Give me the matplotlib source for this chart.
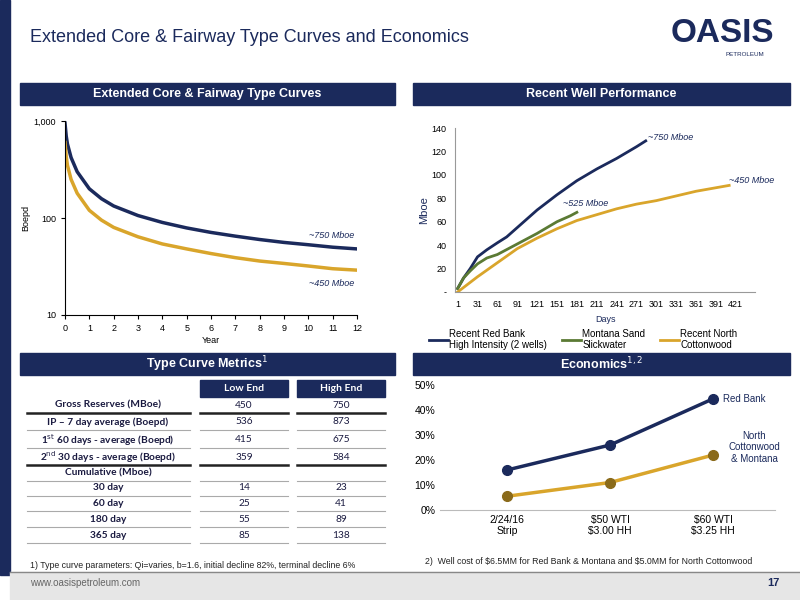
import matplotlib
matplotlib.use("Agg")
import matplotlib.pyplot as plt
from matplotlib.patches import Rectangle
from matplotlib.ticker import FuncFormatter, FixedLocator, NullLocator

NAVY = "#1b2a5c"; GOLD = "#d9a52b"; GREEN = "#5b7a34"; TXT = "#1b2a5c"
plt.rcParams['font.family'] = ['Liberation Sans', 'DejaVu Sans']

# ---- data ----
tc_years = [0, 0.05, 0.1, 0.25, 0.5, 1, 1.5, 2, 3, 4, 5, 6, 7, 8, 9, 10, 11, 12]
tc_high = [950, 700, 580, 420, 300, 200, 158, 133, 106, 90, 79, 71, 65, 60, 56, 53, 50, 48]
tc_low = [600, 430, 350, 250, 180, 120, 95, 80, 64, 54, 48, 43, 39, 36, 34, 32, 30, 29]

rb_days = [1, 10, 20, 31, 45, 61, 75, 91, 121, 151, 181, 211, 241, 271, 285]
rb_vals = [3, 12, 20, 30, 36, 42, 47, 55, 70, 83, 95, 105, 114, 124, 129]
ms_days = [1, 10, 20, 31, 45, 61, 91, 121, 151, 171, 181]
ms_vals = [3, 12, 18, 24, 29, 32, 41, 50, 60, 65, 68]
nc_days = [1, 31, 61, 91, 121, 151, 181, 211, 241, 271, 301, 331, 361, 391, 411]
nc_vals = [0, 13, 25, 37, 46, 54, 61, 66, 71, 75, 78, 82, 86, 89, 91]

econ_cats = ["2/24/16\nStrip", "$50 WTI\n$3.00 HH", "$60 WTI\n$3.25 HH"]
econ_redbank = [0.16, 0.26, 0.445]
econ_north = [0.055, 0.11, 0.22]

tbl_labels = ["Gross Reserves (MBoe)", "IP \u2013 7 day average (Boepd)",
              r"1$^{\mathrm{st}}$ 60 days - average (Boepd)",
              r"2$^{\mathrm{nd}}$ 30 days - average (Boepd)",
              "Cumulative (Mboe)", "30 day", "60 day", "180 day", "365 day"]
tbl_low = ["450", "536", "415", "359", "", "14", "25", "55", "85"]
tbl_high = ["750", "873", "675", "584", "", "23", "41", "89", "138"]

fig = plt.figure(figsize=(8, 6), dpi=100)
W, H = 800, 600
def box(x0, y0, x1, y1):
    return [x0 / W, 1 - y1 / H, (x1 - x0) / W, (y1 - y0) / H]

ov = fig.add_axes([0, 0, 1, 1]); ov.set_xlim(0, W); ov.set_ylim(H, 0); ov.axis("off")
ov.add_patch(Rectangle((0, 0), 10, 575, color=NAVY))
ov.add_patch(Rectangle((10, 572), 790, 28, color="#e6e6e6"))
ov.plot([10, 800], [572, 572], color="#888888", lw=1)
ov.text(30, 38, "Extended Core & Fairway Type Curves and Economics", fontsize=13, color=NAVY, va="center")
ov.text(722, 34, "OASIS", fontsize=24, fontweight="bold", color=NAVY, ha="center", va="center")
ov.text(745, 54, "PETROLEUM", fontsize=4.5, color=NAVY, ha="center", va="center")
ov.text(30, 583, "www.oasispetroleum.com", fontsize=7, color="#666666", va="center")
ov.text(780, 583, "17", fontsize=8, fontweight="bold", color=NAVY, va="center", ha="right")
for (x0, x1, y0, y1, t) in [(20, 395, 83, 105, "Extended Core & Fairway Type Curves"),
                             (413, 790, 83, 105, "Recent Well Performance"),
                             (20, 395, 353, 375, r"Type Curve Metrics$^1$"),
                             (413, 790, 353, 375, r"Economics$^{1,2}$")]:
    ov.add_patch(Rectangle((x0, y0), x1 - x0, y1 - y0, color=NAVY))
    ov.text((x0 + x1) / 2, (y0 + y1) / 2, t, color="white", fontsize=9, fontweight="bold", ha="center", va="center")
ov.text(30, 566, "1) Type curve parameters: Qi=varies, b=1.6, initial decline 82%, terminal decline 6%", fontsize=6.3, color="#222222", va="center")
ov.text(425, 562, r"2)  Well cost of \$6.5MM for Red Bank & Montana and \$5.0MM for North Cottonwood", fontsize=6.3, color="#222222", va="center")

tf = ['Lato', 'DejaVu Sans']
rows_y = [405, 422, 440, 457, 473, 488, 503, 519, 535]
cols = [(27, 190, 108), (200, 288, 244), (297, 385, 341)]
for (x0, x1, xc), t in zip(cols[1:], ["Low End", "High End"]):
    ov.add_patch(Rectangle((x0, 380), x1 - x0, 17, color=NAVY))
    ov.text(xc, 388.5, t, color="white", fontsize=7.5, fontweight="bold", ha="center", va="center", family=tf)
for i, y in enumerate(rows_y):
    for (x0, x1, xc), t in zip(cols, [tbl_labels[i], tbl_low[i], tbl_high[i]]):
        ov.text(xc, y, t, fontsize=7.3, color="#1a1a40", ha="center", va="center",
                fontweight="bold" if xc == 108 else "normal", family=tf)
        thick = i in (0, 3)
        ov.plot([x0, x1], [y + 8, y + 8], color="#222222" if thick else "#aaaaaa", lw=1.8 if thick else 0.8)

a1 = fig.add_axes(box(65, 121, 357, 315))
a1.plot(tc_years, tc_high, color=NAVY, lw=2.5)
a1.plot(tc_years, tc_low, color=GOLD, lw=2.5)
a1.set_yscale("log"); a1.set_ylim(10, 1000); a1.set_xlim(0, 12)
a1.set_xticks(range(13))
a1.yaxis.set_major_locator(FixedLocator([10, 100, 1000])); a1.yaxis.set_minor_locator(NullLocator())
a1.yaxis.set_major_formatter(FuncFormatter(lambda v, p: f"{int(v):,}"))
a1.tick_params(labelsize=6.5, length=3)
a1.set_xlabel("Year", fontsize=6.5, labelpad=2); a1.set_ylabel("Boepd", fontsize=6.5, labelpad=2)
for s in ["top", "right"]: a1.spines[s].set_visible(False)
a1.text(11.9, 62, "~750 Mboe", fontsize=6.5, style="italic", color=NAVY, ha="right")
a1.text(11.9, 20, "~450 Mboe", fontsize=6.5, style="italic", color=NAVY, ha="right")

a2 = fig.add_axes(box(455, 128, 755, 292))
a2.plot(rb_days, rb_vals, color=NAVY, lw=2, label="Recent Red Bank\nHigh Intensity (2 wells)")
a2.plot(ms_days, ms_vals, color=GREEN, lw=2, label="Montana Sand\nSlickwater")
a2.plot(nc_days, nc_vals, color=GOLD, lw=2, label="Recent North\nCottonwood")
a2.set_xlim(-3, 450); a2.set_ylim(0, 140)
a2.set_xticks(list(range(1, 422, 30)))
a2.set_yticks(range(0, 141, 20))
a2.set_yticklabels(["-"] + [str(v) for v in range(20, 141, 20)])
a2.tick_params(labelsize=6.5, length=0, pad=6)
for s in ["top", "right"]: a2.spines[s].set_visible(False)
for s in ["left", "bottom"]: a2.spines[s].set_color("#999999")
a2.set_xlabel("Days", fontsize=6.5, color=NAVY); a2.set_ylabel("Mboe", fontsize=8, color=NAVY, labelpad=2)
a2.text(288, 130, "~750 Mboe", fontsize=6.5, style="italic", color=NAVY)
a2.text(410, 93, "~450 Mboe", fontsize=6.5, style="italic", color=NAVY)
a2.text(160, 73, "~525 Mboe", fontsize=6.5, style="italic", color=NAVY)
a2.legend(loc="upper left", bbox_to_anchor=(-0.1, -0.2), ncol=3, frameon=False, fontsize=7,
          handlelength=2, columnspacing=1.5, handletextpad=0.1, borderaxespad=0)

a3 = fig.add_axes(box(440, 385, 775, 510))
xs = range(len(econ_cats))
a3.plot(xs, econ_redbank, color=NAVY, lw=2.5, marker="o", ms=7)
a3.plot(xs, econ_north, color=GOLD, lw=2.5, marker="o", ms=7, mfc="#8a6a1a", mec="#8a6a1a")
a3.set_xlim(-0.65, 2.6); a3.set_ylim(0, 0.5)
a3.set_xticks(list(xs)); a3.set_xticklabels(econ_cats, fontsize=7.5)
a3.set_yticks([i / 10 for i in range(6)])
a3.yaxis.set_major_formatter(FuncFormatter(lambda v, p: f"{v:.0%}"))
a3.tick_params(labelsize=7.5, length=0)
for s in ["top", "right", "left"]: a3.spines[s].set_visible(False)
a3.spines["bottom"].set_color("#bbbbbb")
a3.text(2.1, 0.43, "Red Bank", fontsize=7, color=NAVY)
a3.text(2.4, 0.25, "North\nCottonwood\n& Montana", fontsize=7, color=NAVY, ha="center", va="center")

fig.savefig("out.png", dpi=100)
